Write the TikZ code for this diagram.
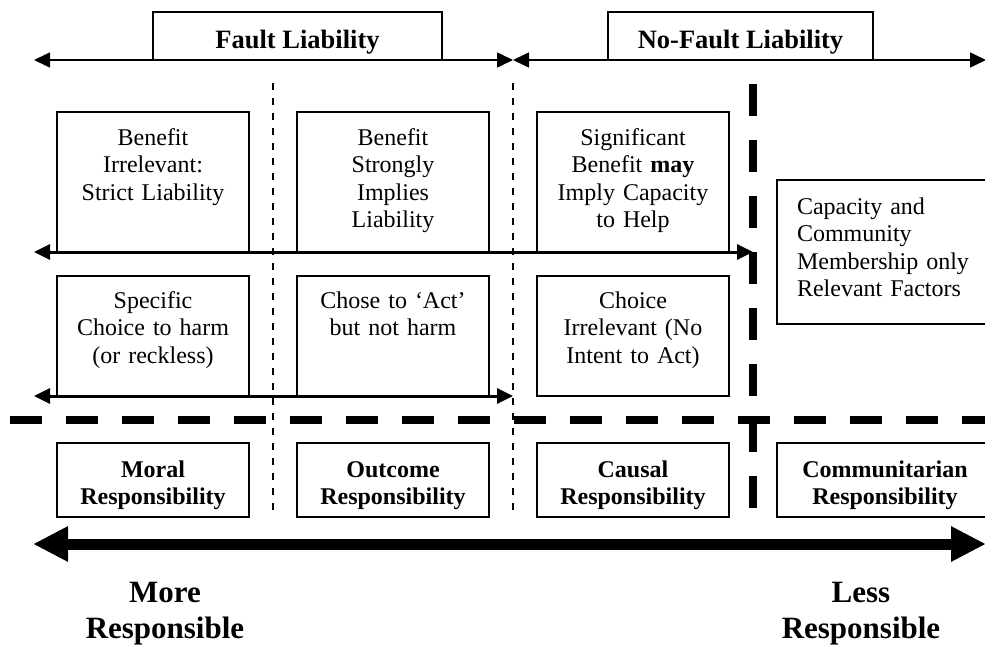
\documentclass[tikz,border=0pt]{standalone}
\usepackage{fontspec}
\setmainfont{Liberation Serif}
\usetikzlibrary{arrows.meta,positioning}

\begin{document}
\begin{tikzpicture}[
  x=1pt, y=-1pt,
  node distance=48pt,
  cell/.style={draw,line width=1.6pt,inner sep=0pt,outer sep=0pt,text width=192pt,align=center,font=\fontsize{24}{27.6}\selectfont},
  upper/.style={cell,text height=33pt,text depth=107pt},
  lower/.style={cell,text height=32pt,text depth=88pt},
  resp/.style={cell,text height=34pt,text depth=40pt,font=\fontsize{24}{27}\selectfont\bfseries},
  regime/.style={draw,line width=1.6pt,inner sep=0pt,outer sep=0pt,text height=36pt,text depth=12pt,font=\fontsize{26.5}{30}\selectfont\bfseries},
  span/.style={{Triangle[length=16pt,width=15pt]}-{Triangle[length=16pt,width=15pt]},line width=1.6pt},
  band/.style={span,line width=3pt},
  divider/.style={dash pattern=on 7pt off 8pt,line width=1.2pt},
  border/.style={dash pattern=on 32pt off 24pt,line width=8pt},
  gradient/.style={{Triangle[length=35pt,width=33pt]}-{Triangle[length=35pt,width=33pt]},line width=11pt},
  ends/.style={inner sep=0pt,align=center,font=\fontsize{31}{36}\selectfont\bfseries}]
\useasboundingbox (0,0) rectangle (985,645);

\coordinate (faultL) at (34,60);
\coordinate (split) at (513,60);
\coordinate (nofaultR) at (986,60);
\coordinate (row1L) at (34,252);
\coordinate (row1R) at (753,252);
\coordinate (row2L) at (34,396);
\coordinate (row2R) at (513,396);
\coordinate (more) at (33,544);
\coordinate (less) at (986,544);

\draw[divider] (273,83) -- (273,512);
\draw[divider] (513,83) -- (513,512);
\draw[border] (753,84) -- (753,508);
\draw[border] (10,420) -- (990,420);

\node[regime, minimum width=289pt, anchor=south] (fault) at (297.5,60) {Fault Liability};
\node[regime, minimum width=265pt, anchor=south] (nofault) at (740.5,60) {No-Fault Liability};

\node[upper, anchor=north] (strict) at (153,112) {Benefit\\Irrelevant:\\Strict Liability};
\node[upper, right=of strict] (implies) {Benefit\\Strongly\\Implies\\Liability};
\node[upper, right=of implies] (helpcap) {Significant\\Benefit \textbf{may}\\Imply Capacity\\to Help};
\node[cell, inner xsep=20pt, text width=176pt, align=left, text height=34pt, text depth=110pt, anchor=north west] (community) at (777,180) {Capacity and\\Community\\Membership only\\Relevant Factors};

\node[lower, below=24pt of strict] (specific) {Specific\\Choice to harm\\(or reckless)};
\node[lower, right=of specific] (chose) {Chose to ‘Act’\\but not harm};
\node[lower, right=of chose] (nointent) {Choice\\Irrelevant (No\\Intent to Act)};

\node[resp, anchor=north] (moral) at (153,443) {Moral\\Responsibility};
\node[resp, right=of moral] (outcome) {Outcome\\Responsibility};
\node[resp, right=of outcome] (causal) {Causal\\Responsibility};
\node[resp, text width=216pt, right=of causal] (communitarian) {Communitarian\\Responsibility};

\node[ends, anchor=north] (moreresp) at (165,582) {More\\Responsible};
\node[ends, anchor=north] (lessresp) at (861,582) {Less\\Responsible};

\draw[span] (faultL) -- (split);
\draw[span] (split) -- (nofaultR);
\draw[band] (row1L) -- (row1R);
\draw[band] (row2L) -- (row2R);
\draw[gradient] (more) -- (less);
\end{tikzpicture}
\end{document}
